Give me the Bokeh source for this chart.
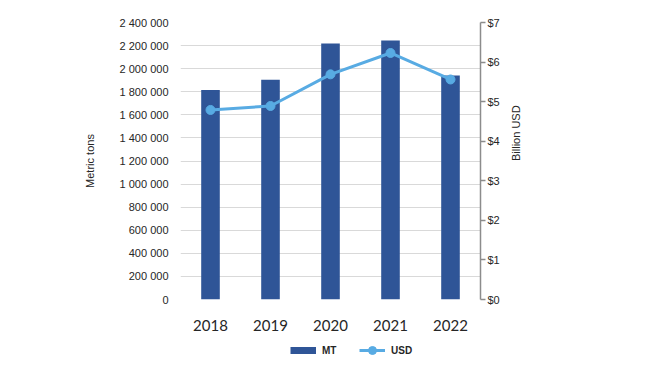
from math import pi
from bokeh.plotting import figure
from bokeh.layouts import column
from bokeh.models import (Range1d, LinearAxis, FixedTicker, Legend, LegendItem,
                          FactorRange, ColumnDataSource)
from bokeh.embed import file_html
from bokeh.resources import INLINE

years = ["2018", "2019", "2020", "2021", "2022"]
mt = [1815000, 1905000, 2218000, 2244000, 1940000]
usd = [4.79, 4.89, 5.69, 6.23, 5.56]

mt_ticks = [0, 200000, 400000, 600000, 800000, 1000000, 1200000,
            1400000, 1600000, 1800000, 2000000, 2200000, 2400000]
mt_tick_labels = ["0", "200 000", "400 000", "600 000", "800 000", "1 000 000",
                  "1 200 000", "1 400 000", "1 600 000", "1 800 000",
                  "2 000 000", "2 200 000", "2 400 000"]
usd_ticks = [0, 1, 2, 3, 4, 5, 6, 7]
usd_tick_labels = ["$0", "$1", "$2", "$3", "$4", "$5", "$6", "$7"]
series_names = ["MT", "USD"]

BAR = "#2F5597"
LINE = "#58ABE3"
TXT = "#262626"
FONT = "Liberation Sans"

src = ColumnDataSource(dict(year=years, mt=mt, usd=usd))

p = figure(width=650, height=334,
           x_range=FactorRange(factors=years, range_padding=0),
           y_range=Range1d(0, 2400000),
           output_backend="svg", toolbar_location=None,
           min_border_left=180, min_border_right=170,
           min_border_top=22, min_border_bottom=35)
p.outline_line_color = None
p.background_fill_color = "white"
p.border_fill_color = "white"

p.extra_y_ranges = {"usd": Range1d(0, 7)}

p.vbar(x="year", top="mt", width=0.31, source=src,
       fill_color=BAR, line_color=None)
p.line(x="year", y="usd", source=src, y_range_name="usd",
       line_color=LINE, line_width=3)
p.scatter(x="year", y="usd", source=src, y_range_name="usd",
          size=9, fill_color=LINE, line_color=LINE)

# left axis
ya = p.yaxis[0]
ya.ticker = FixedTicker(ticks=mt_ticks)
ya.major_label_overrides = {t: l for t, l in zip(mt_ticks, mt_tick_labels)}
ya.axis_line_color = None
ya.major_tick_line_color = None
ya.minor_tick_line_color = None
ya.major_label_standoff = 6
ya.major_label_text_font = FONT
ya.major_label_text_font_size = "11px"
ya.major_label_text_color = TXT
ya.axis_label = "Metric tons"
ya.axis_label_text_font = FONT
ya.axis_label_text_font_size = "11px"
ya.axis_label_text_font_style = "normal"
ya.axis_label_text_color = TXT
ya.axis_label_standoff = 21

# x axis
xa = p.xaxis[0]
xa.axis_line_color = None
xa.major_tick_line_color = None
xa.minor_tick_line_color = None
xa.major_label_standoff = 14
xa.major_label_text_font = "Lato"
xa.major_label_text_font_size = "15px"
xa.major_label_text_color = TXT

# right axis
ra = LinearAxis(y_range_name="usd", ticker=FixedTicker(ticks=usd_ticks))
ra.major_label_overrides = {t: l for t, l in zip(usd_ticks, usd_tick_labels)}
ra.axis_line_color = "#8C8C8C"
ra.axis_line_width = 1.5
ra.major_tick_line_color = "#8C8C8C"
ra.major_tick_line_width = 1.5
ra.major_tick_in = 0
ra.major_tick_out = 5
ra.minor_tick_line_color = None
ra.major_label_standoff = 2
ra.major_label_text_font = FONT
ra.major_label_text_font_size = "11px"
ra.major_label_text_color = TXT
ra.axis_label = "Billion USD"
ra.axis_label_orientation = pi / 2
ra.axis_label_text_font = FONT
ra.axis_label_text_font_size = "11px"
ra.axis_label_text_font_style = "normal"
ra.axis_label_text_color = TXT
ra.axis_label_standoff = 13
p.add_layout(ra, "right")

# grid
p.xgrid.grid_line_color = None
p.ygrid.grid_line_color = "#D9D9D9"
p.ygrid.grid_line_width = 1
p.ygrid.ticker = FixedTicker(ticks=mt_ticks)

# legend strip (separate figure so the legend is not clipped);
# the proxy renderers use the real data but lie outside this strip's range
lg = figure(width=650, height=30,
            x_range=FactorRange(factors=years, range_padding=0),
            y_range=Range1d(-2, -1),
            x_axis_type=None, y_axis_type=None,
            output_backend="svg", toolbar_location=None,
            min_border=0)
lg.outline_line_color = None
lg.xgrid.grid_line_color = None
lg.ygrid.grid_line_color = None
mt_proxy = lg.line(x="year", y="mt", source=src, line_color=BAR, line_width=7,
                   line_cap="butt")
usd_line = lg.line(x="year", y="usd", source=src, line_color=LINE, line_width=3)
usd_pts = lg.scatter(x="year", y="usd", source=src, fill_color=LINE,
                     line_color=LINE)

legend = Legend(items=[LegendItem(label=series_names[0], renderers=[mt_proxy]),
                       LegendItem(label=series_names[1], renderers=[usd_line, usd_pts])],
                orientation="horizontal", location=(110, 4),
                glyph_width=26, glyph_height=20, label_height=20,
                label_standoff=6, spacing=17, padding=0, margin=0,
                border_line_color=None, background_fill_alpha=0,
                label_text_font=FONT, label_text_font_size="10px",
                label_text_font_style="bold", label_text_color=TXT)
lg.add_layout(legend, "center")

layout = column(p, lg, spacing=0)
open("out.html", "w").write(file_html(layout, INLINE))
